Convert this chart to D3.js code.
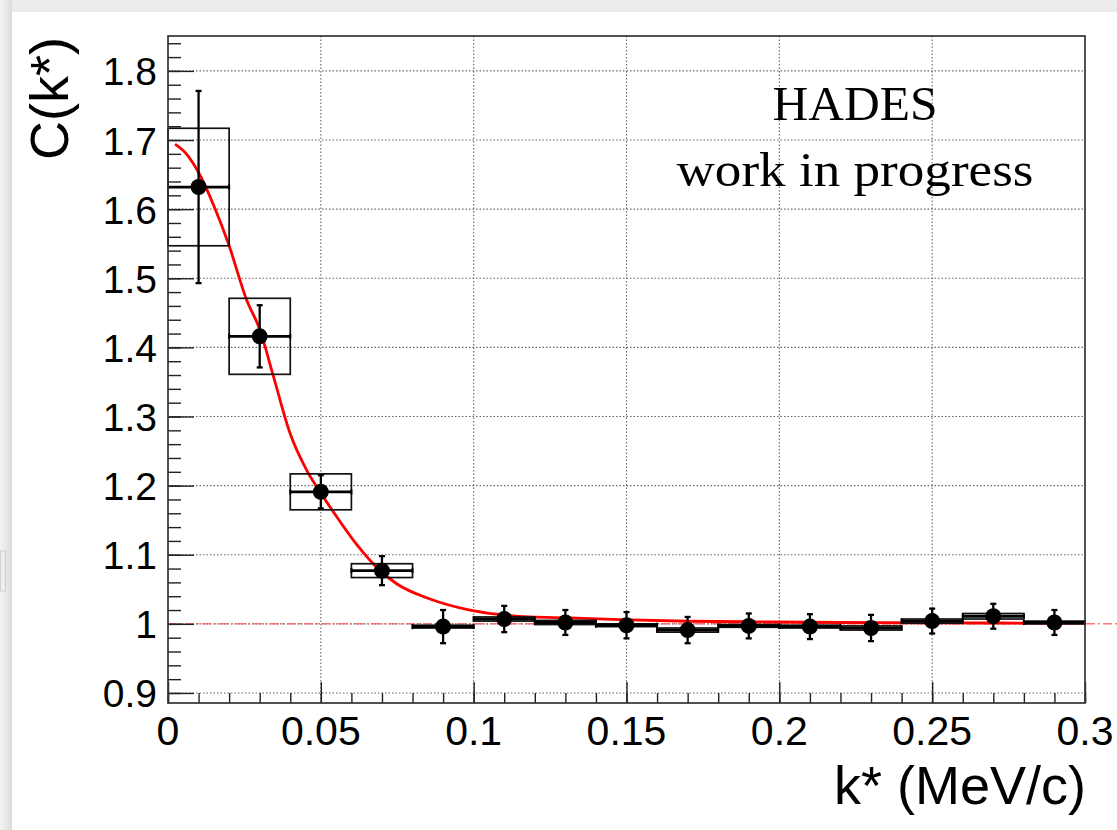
<!DOCTYPE html>
<html><head><meta charset="utf-8">
<script src="https://cdn.jsdelivr.net/npm/d3@7"></script>
<style>
html,body{margin:0;padding:0;background:#fff;}
svg{display:block;}
</style></head>
<body>
<svg id="chart" width="1117" height="830"></svg>
<script>
// ---- data ----
const kCenters   = [0.01,0.03,0.05,0.07,0.09,0.11,0.13,0.15,0.17,0.19,0.21,0.23,0.25,0.27,0.29];
const cValues    = [1.632,1.416,1.191,1.077,0.996,1.007,1.002,0.998,0.991,0.997,0.996,0.994,1.004,1.011,1.002];
const statErrors = [0.139,0.045,0.024,0.021,0.024,0.019,0.018,0.019,0.019,0.018,0.018,0.019,0.018,0.018,0.018];
const sysErrors  = [0.085,0.055,0.026,0.010,0.002,0.003,0.003,0.002,0.003,0.002,0.002,0.003,0.003,0.004,0.002];
const binHalfWidth = 0.01;
const fitK = [0.0023,0.006,0.01,0.015,0.0197,0.0257,0.0301,0.0345,0.0399,0.0454,0.0497,0.0552,0.0617,0.0694,0.0748,0.0857,0.0988,0.1075,0.1184,0.1315,0.148,0.17,0.191,0.22,0.25,0.3];
const fitC = [1.694,1.680,1.653,1.605,1.551,1.469,1.425,1.358,1.276,1.222,1.191,1.155,1.115,1.077,1.058,1.036,1.020,1.014,1.010,1.0087,1.0062,1.0038,1.003,1.002,1.0015,1.001];
const xTickLabels = ["0","0.05","0.1","0.15","0.2","0.25","0.3"];
const xTickValues = [0,0.05,0.1,0.15,0.2,0.25,0.3];
const yTickLabels = ["0.9","1","1.1","1.2","1.3","1.4","1.5","1.6","1.7","1.8"];
const yTickValues = [0.9,1.0,1.1,1.2,1.3,1.4,1.5,1.6,1.7,1.8];
const xTitle = "k* (MeV/c)";
const yTitle = "C(k*)";
const textLines = ["HADES","work in progress"];

// ---- layout ----
const svg = d3.select("#chart");
const L = 168, R = 1085, T = 36, B = 703;
const x = d3.scaleLinear().domain([0,0.3]).range([L,R]);
const y = d3.scaleLinear().domain([0.8855,1.8505]).range([B,T]);

// page background
svg.append("rect").attr("width",1117).attr("height",830).attr("fill","#ececec");
const grad = svg.append("defs").append("linearGradient").attr("id","lsh").attr("x1","0").attr("x2","1");
grad.append("stop").attr("offset","0").attr("stop-color","#f4f4f4");
grad.append("stop").attr("offset","1").attr("stop-color","#dcdcdc");
svg.append("rect").attr("x",0).attr("y",0).attr("width",12).attr("height",830).attr("fill","url(#lsh)");
svg.append("rect").attr("x",12).attr("y",12).attr("width",1105).attr("height",818).attr("fill","#fff");
svg.append("rect").attr("x",0.5).attr("y",551).attr("width",5).attr("height",40).attr("fill","none").attr("stroke","#d0d0d0").attr("stroke-width",1);

// grid
const g = svg.append("g");
g.selectAll(".gx").data(xTickValues.filter(v=>v>0&&v<0.3)).join("line")
  .attr("x1",d=>x(d)).attr("x2",d=>x(d)).attr("y1",T).attr("y2",B)
  .attr("stroke","#666").attr("stroke-width",1.1).attr("stroke-dasharray","1.5,2");
g.selectAll(".gy").data(yTickValues).join("line")
  .attr("x1",L).attr("x2",R).attr("y1",d=>y(d)).attr("y2",d=>y(d))
  .attr("stroke","#666").attr("stroke-width",1.1).attr("stroke-dasharray","1.5,2");

// reference line at 1
svg.append("line").attr("x1",L).attr("x2",1117).attr("y1",y(1)).attr("y2",y(1))
  .attr("stroke","#ff6060").attr("stroke-opacity",0.85).attr("stroke-width",1.5)
  .attr("stroke-dasharray","9,3,2,3");

// axes ticks (inside frame)
const yMinor = d3.range(0.88,1.85,0.02).filter(v=>y(v)>=T && y(v)<=B);
svg.append("g").attr("transform",`translate(${L},0)`)
  .call(d3.axisRight(y).tickValues(yMinor).tickSize(13).tickFormat(""))
  .call(a=>a.select(".domain").remove())
  .call(a=>a.selectAll("line").attr("stroke","#222").attr("stroke-width",1.4));
svg.append("g").attr("transform",`translate(${L},0)`)
  .call(d3.axisRight(y).tickValues(yTickValues).tickSize(26).tickFormat(""))
  .call(a=>a.select(".domain").remove())
  .call(a=>a.selectAll("line").attr("stroke","#222").attr("stroke-width",1.4));
const xMinor = d3.range(0,0.3001,0.01);
svg.append("g").attr("transform",`translate(0,${B})`)
  .call(d3.axisTop(x).tickValues(xMinor).tickSize(10).tickFormat(""))
  .call(a=>a.select(".domain").remove())
  .call(a=>a.selectAll("line").attr("stroke","#222").attr("stroke-width",1.4));
svg.append("g").attr("transform",`translate(0,${B})`)
  .call(d3.axisTop(x).tickValues(xTickValues).tickSize(21).tickFormat(""))
  .call(a=>a.select(".domain").remove())
  .call(a=>a.selectAll("line").attr("stroke","#222").attr("stroke-width",1.4));

// tick labels
const sans = "'Liberation Sans', Arial, Helvetica, sans-serif";
svg.append("g").selectAll("text").data(yTickValues).join("text")
  .attr("x",157).attr("y",d=>y(d)+14.5).attr("text-anchor","end")
  .attr("font-family",sans).attr("font-size",39).attr("fill","#000")
  .text((d,i)=>yTickLabels[i]);
svg.append("g").selectAll("text").data(xTickValues).join("text")
  .attr("x",d=>x(d)).attr("y",745).attr("text-anchor","middle")
  .attr("font-family",sans).attr("font-size",41).attr("fill","#000")
  .text((d,i)=>xTickLabels[i]);

// axis titles
svg.append("text").attr("transform",`translate(68,37) rotate(-90)`).attr("text-anchor","end")
  .attr("font-family",sans).attr("font-size",54).attr("fill","#000").text(yTitle);
svg.append("text").attr("x",R+1).attr("y",804).attr("text-anchor","end")
  .attr("font-family",sans).attr("font-size",54).attr("fill","#000").text(xTitle);

// data
const pts = kCenters.map((k,i)=>({k,c:cValues[i],s:statErrors[i],sy:sysErrors[i]}));
const dg = svg.append("g");
// systematic boxes
dg.selectAll(".sys").data(pts).join("rect")
  .attr("x",d=>x(d.k-binHalfWidth)).attr("width",d=>x(d.k+binHalfWidth)-x(d.k-binHalfWidth))
  .attr("y",d=>y(d.c+d.sy)).attr("height",d=>Math.max(2,y(d.c-d.sy)-y(d.c+d.sy)))
  .attr("fill","none").attr("stroke","#111").attr("stroke-width",1.7);
// horizontal bars
dg.selectAll(".hb").data(pts).join("line")
  .attr("x1",d=>x(d.k-binHalfWidth)).attr("x2",d=>x(d.k+binHalfWidth))
  .attr("y1",d=>y(d.c)).attr("y2",d=>y(d.c)).attr("stroke","#000").attr("stroke-width",2.8);
dg.selectAll(".hc").data(pts.flatMap(d=>[{k:d.k-binHalfWidth,c:d.c},{k:d.k+binHalfWidth,c:d.c}])).join("line")
  .attr("x1",d=>x(d.k)).attr("x2",d=>x(d.k)).attr("y1",d=>y(d.c)-2.5).attr("y2",d=>y(d.c)+2.5)
  .attr("stroke","#000").attr("stroke-width",2);
// vertical stat bars
dg.selectAll(".vb").data(pts).join("line")
  .attr("x1",d=>x(d.k)).attr("x2",d=>x(d.k)).attr("y1",d=>y(d.c+d.s)).attr("y2",d=>y(d.c-d.s))
  .attr("stroke","#000").attr("stroke-width",2.3);
dg.selectAll(".vc").data(pts.flatMap(d=>[{k:d.k,c:d.c+d.s},{k:d.k,c:d.c-d.s}])).join("line")
  .attr("x1",d=>x(d.k)-3).attr("x2",d=>x(d.k)+3).attr("y1",d=>y(d.c)).attr("y2",d=>y(d.c))
  .attr("stroke","#000").attr("stroke-width",2.3);

// fit curve
const fit = fitK.map((k,i)=>[k,fitC[i]]);
svg.append("path").datum(fit)
  .attr("d",d3.line().x(d=>x(d[0])).y(d=>y(d[1])).curve(d3.curveMonotoneX))
  .attr("fill","none").attr("stroke","#ff0000").attr("stroke-width",2.8);

// markers
dg.selectAll(".m").data(pts).join("circle")
  .attr("cx",d=>x(d.k)).attr("cy",d=>y(d.c)).attr("r",8).attr("fill","#000");
svg.node().appendChild(dg.node());

// frame
svg.append("rect").attr("x",L).attr("y",T).attr("width",R-L).attr("height",B-T)
  .attr("fill","none").attr("stroke","#333").attr("stroke-width",1.7);

// text
const serif = "'Liberation Serif', 'Times New Roman', serif";
svg.append("text").attr("x",855).attr("y",120).attr("text-anchor","middle")
  .attr("font-family",serif).attr("font-size",48).attr("fill","#000")
  .attr("textLength",165).attr("lengthAdjust","spacingAndGlyphs").text(textLines[0]);
svg.append("text").attr("x",855).attr("y",186).attr("text-anchor","middle")
  .attr("font-family",serif).attr("font-size",49).attr("fill","#000")
  .attr("textLength",357).attr("lengthAdjust","spacingAndGlyphs").text(textLines[1]);
</script>
</body></html>
